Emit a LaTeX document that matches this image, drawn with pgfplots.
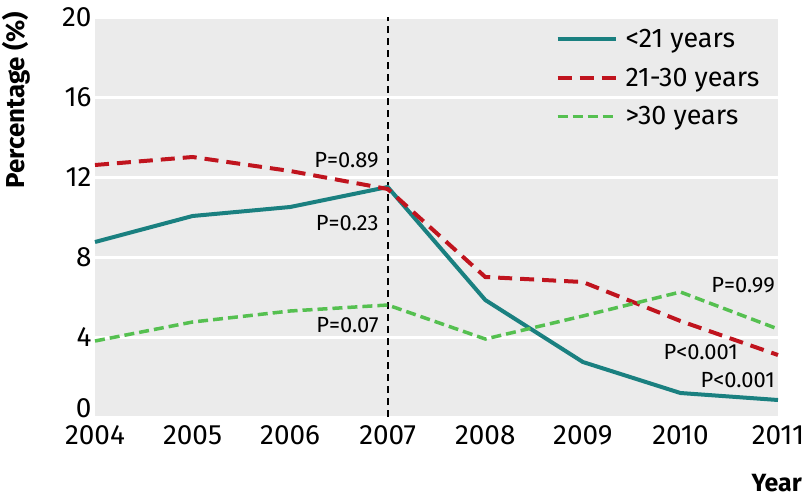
\documentclass[border=0pt]{standalone}
\usepackage{fontspec}
\setmainfont{Fira Sans}
\usepackage{pgfplots}
\pgfplotsset{compat=1.18}

\definecolor{tealline}{HTML}{1A8080}
\definecolor{redline}{HTML}{C0141E}
\definecolor{greenline}{HTML}{55C050}
\definecolor{bggray}{HTML}{EBEBEB}

\begin{document}
\begin{tikzpicture}
\path[use as bounding box] (0,0) rectangle (809bp,-501bp);
\begin{axis}[
    at={(95bp,-417bp)}, anchor=south west,
    scale only axis,
    width=683bp, height=400bp,
    xmin=2004, xmax=2011, ymin=0, ymax=20,
    xtick={2004,2005,...,2011},
    ytick={0,4,...,20},
    yticklabels={\smash{0},4,8,12,16,20},
    axis line style={draw=none},
    major tick length=0pt,
    axis background/.style={fill=bggray},
    ymajorgrids,
    major grid style={white, line width=3bp},
    tick label style={font=\fontsize{28}{32}\selectfont},
    xticklabel style={yshift=-5bp},
    /pgf/number format/1000 sep={},
    /pgf/number format/assume math mode=true,
    ylabel={\bfseries Percentage (\%)},
    ylabel style={font=\fontsize{26}{30}\selectfont, at={(axis description cs:-0.115,1.022)}, anchor=east},
    xlabel={\bfseries Year},
    xlabel style={font=\fontsize{25}{30}\selectfont, at={(axis description cs:1.04,-0.165)}, anchor=east},
    legend style={at={(axis description cs:0.674,0.978)}, anchor=north west,
        draw=none, fill=none, inner sep=0pt,
        font=\fontsize{27}{30}\selectfont, row sep=13bp,
        nodes={inner sep=3bp},
        /tikz/every odd column/.append style={column sep=5bp}},
    legend cell align=left,
    legend image code/.code={\draw[#1] (0bp,0bp) -- (58bp,0bp);},
    clip=false,
]
% vertical marker at 2007
\addplot[black, line width=2bp, dash pattern=on 7bp off 5bp, forget plot]
    coordinates {(2007,0) (2007,20)};

\addplot[tealline, line width=4bp]
    coordinates {(2004,8.75) (2005,10.05) (2006,10.5) (2007,11.5) (2008,5.85) (2009,2.75) (2010,1.2) (2011,0.85)};
\addplot[redline, line width=4bp, dash pattern=on 14bp off 8bp]
    coordinates {(2004,12.6) (2005,13.0) (2006,12.3) (2007,11.4) (2008,7.0) (2009,6.75) (2010,4.8) (2011,3.1)};
\addplot[greenline, line width=3.5bp, dash pattern=on 10bp off 5bp]
    coordinates {(2004,3.8) (2005,4.75) (2006,5.3) (2007,5.6) (2008,3.9) (2009,5.05) (2010,6.25) (2011,4.4)};

\legend{<21 years, 21-30 years, >30 years}

\begin{scope}[every node/.style={font=\fontsize{22}{25}\selectfont, inner sep=0pt}]
\node[anchor=east] at (axis cs:2007,12.85) [xshift=-9bp] {P=0.89};
\node[anchor=east] at (axis cs:2007,9.7) [xshift=-9bp] {P=0.23};
\node[anchor=east] at (axis cs:2007,4.6) [xshift=-9bp] {P=0.07};
\node[anchor=east] at (axis cs:2011,6.6) [xshift=-3bp] {P=0.99};
\node[anchor=east] at (axis cs:2011,3.25) [xshift=-40bp] {P<0.001};
\node[anchor=east] at (axis cs:2011,1.85) [xshift=-3bp] {P<0.001};
\end{scope}
\end{axis}
\end{tikzpicture}
\end{document}
